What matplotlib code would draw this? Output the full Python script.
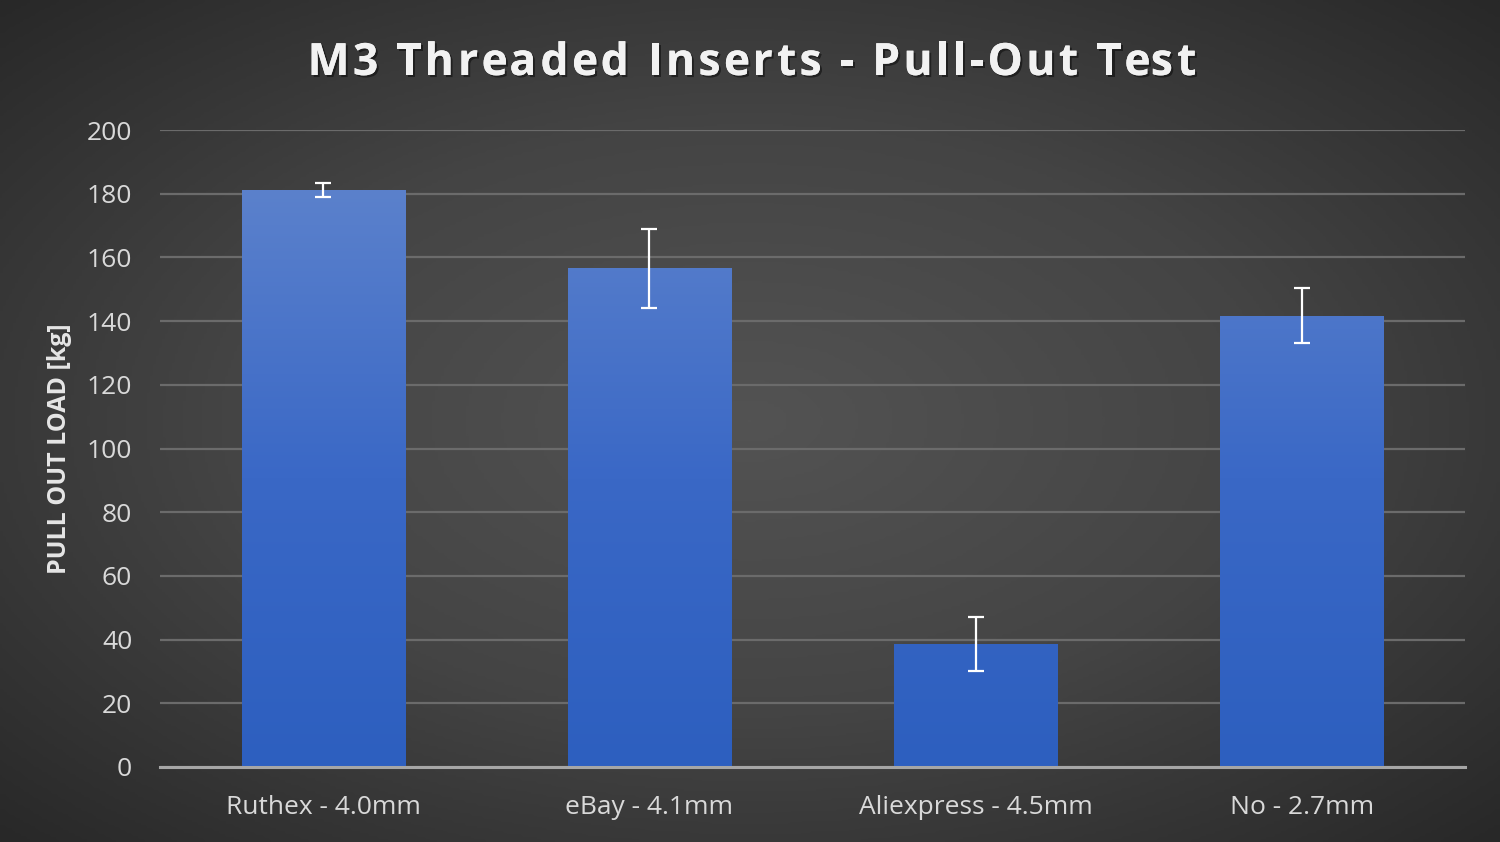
import numpy as np
import matplotlib.pyplot as plt
import matplotlib.patheffects as pe
from matplotlib.colors import LinearSegmentedColormap

categories = ['Ruthex - 4.0mm', 'eBay - 4.1mm', 'Aliexpress - 4.5mm', 'No - 2.7mm']
load = [181.2, 156.6, 38.6, 141.7]
err = [2.2, 12.4, 8.6, 8.6]
yticks = [0, 20, 40, 60, 80, 100, 120, 140, 160, 180, 200]
title = 'M3 Threaded Inserts - Pull-Out Test'

plt.rcParams['font.family'] = ['Open Sans', 'DejaVu Sans']

W, H = 1500, 842
fig = plt.figure(figsize=(W / 100, H / 100), dpi=100)

# radial background
bg = fig.add_axes([0, 0, 1, 1])
yy, xx = np.mgrid[-1:1:300j, -1:1:500j]
r = np.sqrt(xx**2 + yy**2) / np.sqrt(2)
bg_cmap = LinearSegmentedColormap.from_list('bg', ['#535353', '#444444', '#282828'])
bg.imshow(r, cmap=bg_cmap, aspect='auto', extent=[0, 1, 0, 1], vmin=0, vmax=1)
bg.axis('off')

ax = fig.add_axes([160 / W, 75 / H, 1305 / W, 637 / H])
ax.set_facecolor('none')
x = np.arange(len(categories))
bars = ax.bar(x, load, width=0.5, color='#4a72c8', zorder=3)

bar_cmap = LinearSegmentedColormap.from_list('bar', ['#2d5fbf', '#3a68c6', '#5b81cc'])
grad = np.linspace(0, 1, 256).reshape(-1, 1)
for b in bars:
    x0, w = b.get_x(), b.get_width()
    im = ax.imshow(grad, cmap=bar_cmap, aspect='auto', origin='lower',
                   extent=[x0, x0 + w, 0, max(load)], zorder=3)
    im.set_clip_path(b)

ax.errorbar(x, load, yerr=err, fmt='none', ecolor='white', elinewidth=1.6,
            capsize=5.5, capthick=1.6, zorder=4)

ax.set_xlim(-0.5, 3.5)
ax.set_ylim(0, 200)
ax.set_yticks(yticks)
ax.yaxis.grid(True, color='#6b6b6b', linewidth=1.6, zorder=0)
ax.set_axisbelow(True)
for s in ['top', 'right', 'left']:
    ax.spines[s].set_visible(False)
ax.spines['bottom'].set_color('#a6a6a6')
ax.spines['bottom'].set_linewidth(2.2)
ax.spines['bottom'].set_zorder(5)
ax.tick_params(axis='both', length=0, colors='#d9d9d9', labelsize=19)
ax.tick_params(axis='y', pad=20)
ax.tick_params(axis='x', pad=20)
ax.set_xticks(x)
ax.set_xticklabels(categories)

ax.set_ylabel('PULL OUT LOAD [kg]', color='#e6e6e6', fontsize=18, fontweight='bold')
ax.yaxis.set_label_coords(-0.0674, 0.5)

# letter-spaced title, drawn char by char
renderer = fig.canvas.get_renderer()
kw = dict(color='#f2f2f2', fontsize=32, fontweight='bold', va='baseline', ha='left')
probe = fig.text(0, 0, 'x', **kw)
xw = probe.get_window_extent(renderer).width
def width_of(s):
    probe.set_text(s + 'x')
    return probe.get_window_extent(renderer).width - xw
spacing = 3.3
offsets = [width_of(title[:i]) + spacing * i for i in range(len(title))]
total = width_of(title) + spacing * (len(title) - 1)
probe.remove()
start = (W - total) / 2 + 2
shadow = [pe.withSimplePatchShadow(offset=(1.5, -1.5), alpha=0.45, shadow_rgbFace='black'), pe.Normal()]
for ch, off in zip(title, offsets):
    if ch == ' ':
        continue
    fig.text((start + off) / W, 1 - 75 / H, ch, path_effects=shadow, **kw)

fig.savefig('out.png', dpi=100)
